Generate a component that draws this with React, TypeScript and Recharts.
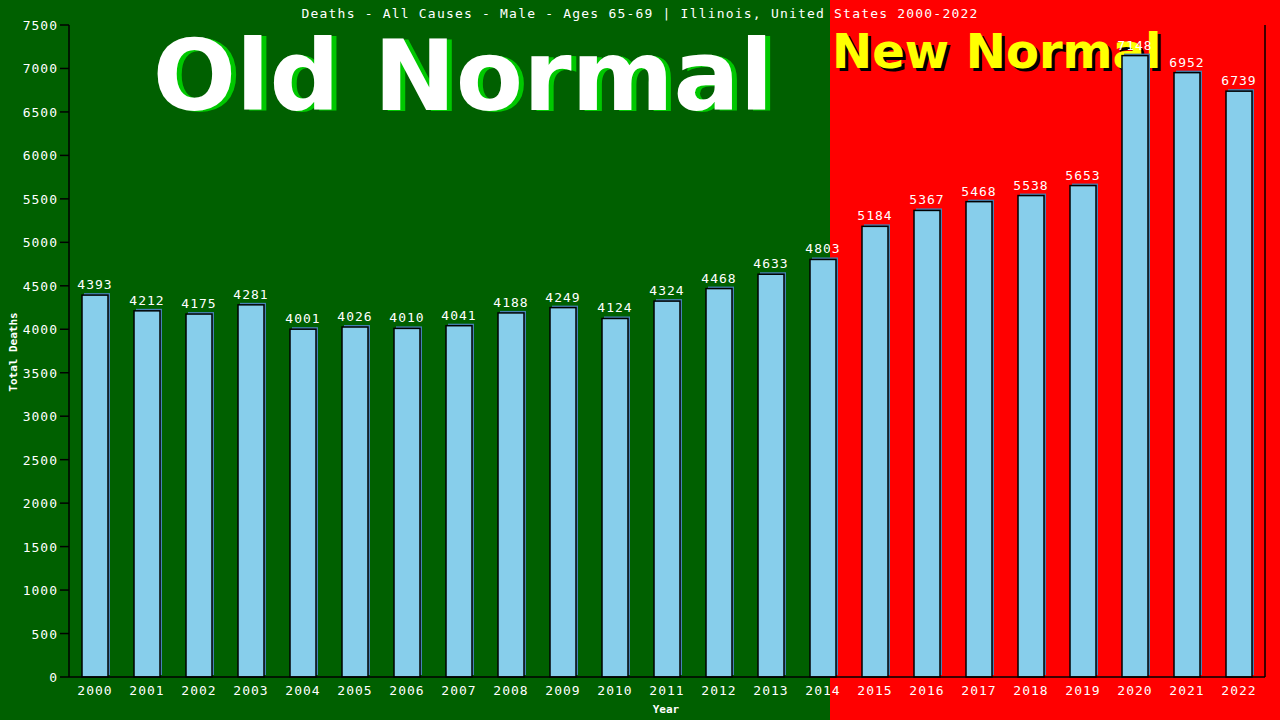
import React from "react";
import { Bar, ComposedChart, XAxis, YAxis, LabelList } from "recharts";

const years = [
  "2000", "2001", "2002", "2003", "2004", "2005", "2006", "2007", "2008", "2009", "2010", "2011",
  "2012", "2013", "2014", "2015", "2016", "2017", "2018", "2019", "2020", "2021", "2022",
];
const deaths = [
  4393, 4212, 4175, 4281, 4001, 4026, 4010, 4041, 4188, 4249, 4124, 4324,
  4468, 4633, 4803, 5184, 5367, 5468, 5538, 5653, 7148, 6952, 6739,
];
const yTicks = [0, 500, 1000, 1500, 2000, 2500, 3000, 3500, 4000, 4500, 5000, 5500, 6000, 6500, 7000, 7500];

const data = years.map((year, i) => ({ year, deaths: deaths[i] }));

const mono = "'DejaVu Sans Mono', monospace";
const green = "#006000";

// bar with a thin steel-blue offset shadow behind it
const renderBar = (props: any) => {
  const { x, y, width, height } = props;
  return (
    <g>
      <rect x={x + 2} y={y - 2} width={width} height={height} fill="#4682b4" />
      <rect x={x} y={y} width={width} height={height} fill="#87ceeb" stroke="#000" strokeWidth={1.5} />
    </g>
  );
};

const YTick = (props: any) => {
  const { x, y, payload } = props;
  return (
    <g>
      <line x1={x - 1} x2={x + 8} y1={y} y2={y} stroke="#000" strokeWidth={1.5} />
      <text x={x - 3} y={y} dy={5} textAnchor="end" fill="#fff" fontFamily={mono} fontSize={13} letterSpacing={1}>
        {payload.value}
      </text>
    </g>
  );
};

const Backdrop = () => (
  <svg width={1280} height={720} style={{ position: "absolute", left: 0, top: 0 }}>
    <rect x={0} y={0} width={1280} height={720} fill={green} />
    <rect x={830} y={0} width={450} height={720} fill="#ff0000" />
    <text x={640} y={18} textAnchor="middle" fill="#fff" fontFamily={mono} fontSize={13} letterSpacing={1.2}>
      Deaths - All Causes - Male - Ages 65-69 | Illinois, United States 2000-2022
    </text>
    <g fontFamily="'DejaVu Sans', sans-serif" fontWeight="bold">
      <text x={468} y={111} textAnchor="middle" fontSize={98} fill="#00c800">Old Normal</text>
      <text x={463} y={110} textAnchor="middle" fontSize={98} fill="#fff">Old Normal</text>
      <text x={835} y={71} fontSize={48} fill="#000">New Normal</text>
      <text x={832} y={68} fontSize={48} fill="#ffff00">New Normal</text>
    </g>
    <text
      x={17}
      y={352}
      transform="rotate(-90 17 352)"
      textAnchor="middle"
      fill="#fff"
      fontFamily={mono}
      fontSize={11}
      fontWeight="bold"
    >
      Total Deaths
    </text>
    <text x={666} y={713} textAnchor="middle" fill="#fff" fontFamily={mono} fontSize={11} fontWeight="bold">
      Year
    </text>
  </svg>
);

export default function App() {
  return (
    <div style={{ position: "absolute", left: 0, top: 0, width: 1280, height: 720 }}>
      <Backdrop />
      <div style={{ position: "absolute", left: 0, top: 0 }}>
        <ComposedChart
          width={1280}
          height={720}
          data={data}
          margin={{ top: 25, right: 0, left: 9, bottom: 13 }}
        >
          <XAxis
            dataKey="year"
            axisLine={{ stroke: "#000", strokeWidth: 1.5 }}
            tickLine={false}
            height={30}
            tick={{ fill: "#fff", fontFamily: mono, fontSize: 13, letterSpacing: 1 }}
            tickMargin={3}
            interval={0}
          />
          <YAxis
            domain={[0, 7500]}
            ticks={yTicks}
            width={60}
            axisLine={{ stroke: "#000", strokeWidth: 1.5 }}
            tickLine={false}
            tick={<YTick />}
            interval={0}
          />
          <YAxis
            yAxisId="right"
            orientation="right"
            domain={[0, 7500]}
            width={15}
            tick={false}
            tickLine={false}
            axisLine={{ stroke: "#000", strokeWidth: 1.5 }}
          />
          <Bar
            dataKey="deaths"
            barSize={26}
            fill="#87ceeb"
            shape={renderBar}
            isAnimationActive={false}
            animationDuration={0}
          >
            <LabelList
              dataKey="deaths"
              position="top"
              offset={6}
              fill="#fff"
              fontFamily={mono}
              fontSize={13}
              letterSpacing={1}
            />
          </Bar>
        </ComposedChart>
      </div>
    </div>
  );
}
